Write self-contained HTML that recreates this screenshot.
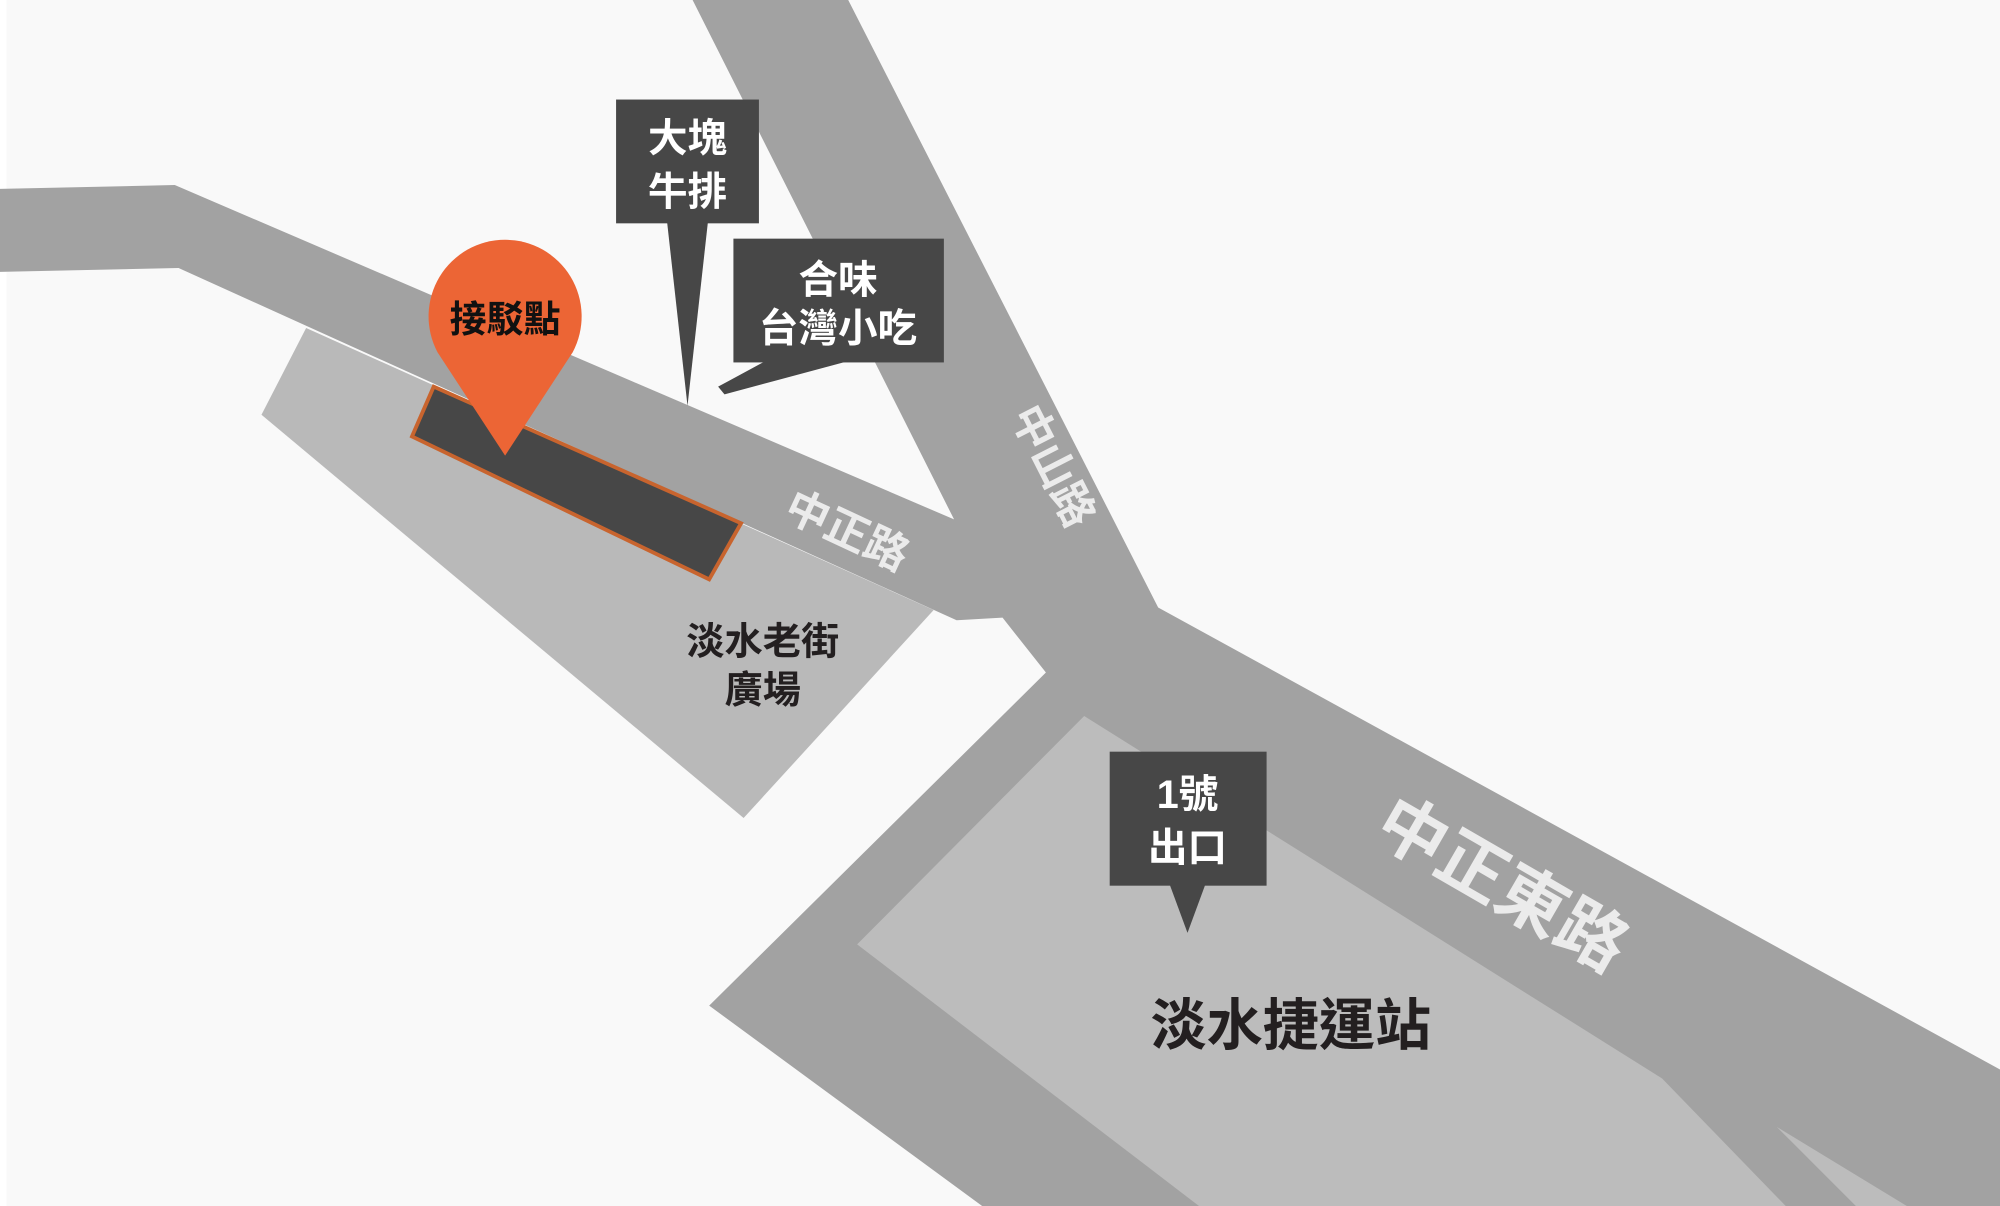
<!DOCTYPE html>
<html><head><meta charset="utf-8"><style>
html,body{margin:0;padding:0;background:#f9f9f9;}
svg{display:block;}
text{font-family:"Liberation Sans","Noto Sans CJK TC",sans-serif;font-weight:bold;}
</style></head><body>
<svg width="2000" height="1206" viewBox="0 0 1568 945" preserveAspectRatio="none" xmlns="http://www.w3.org/2000/svg">
<rect x="0" y="0" width="1568" height="945" fill="#f9f9f9"/>
<rect x="0" y="0" width="5" height="945" fill="#ffffff"/>
<polygon fill="#a2a2a2" points="0,148 137,145 748,407 543,0 665,0 908,476 1568,838 1568,945 770,945 556,788 820,527 786,484 750,486 140,210 0,213"/>
<polygon fill="#bcbcbc" points="850,561 672,740 940,945 1400,945 1303,845"/>
<polygon fill="#bcbcbc" points="1393,883 1455,945 1495,945"/>
<polygon fill="#b9b9b9" points="240,257 732,478 583,641 205,325"/>
<polygon fill="#474747" stroke="#c8642e" stroke-width="3" points="340,303 581,410 556,454 323,342"/>
<g fill="#ebebeb" font-size="34">
<text transform="translate(613,405) rotate(25)">中正路</text>
<text transform="translate(792,325) rotate(63)">中山路</text>
<text font-size="54" transform="translate(1075,655) rotate(30)">中正東路</text>
</g>
<g fill="#231f20">
<text x="598" y="513" font-size="30" text-anchor="middle">淡水老街</text>
<text x="598" y="551" font-size="30" text-anchor="middle">廣場</text>
<text x="1012" y="819" font-size="44" text-anchor="middle">淡水捷運站</text>
</g>
<g fill="#474747">
<rect x="483" y="78" width="112" height="97"/>
<polygon points="523,174 555,174 539,318"/>
<rect x="575" y="187" width="165" height="97"/>
<polygon points="600,283 563,303 568,309 665,283"/>
<rect x="870" y="589" width="123" height="105"/>
<polygon points="917,693 945,693 931,731"/>
</g>
<g fill="#ffffff" font-size="31" text-anchor="middle">
<text x="539" y="119">大塊</text>
<text x="539" y="161">牛排</text>
<text x="657" y="230">合味</text>
<text x="657" y="268">台灣小吃</text>
<text x="931" y="633">1號</text>
<text x="931" y="675">出口</text>
</g>
<path fill="#ec6535" d="M396,357 L343,276 A60,60 0 1 1 449,276 Z"/>
<text x="396" y="260" font-size="29" text-anchor="middle" fill="#111">接駁點</text>
</svg>
</body></html>
